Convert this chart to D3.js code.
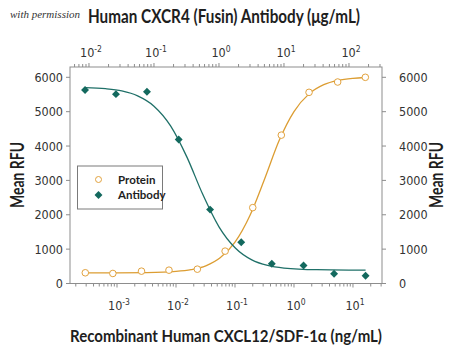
<!DOCTYPE html>
<html><head><meta charset="utf-8">
<script src="https://cdn.jsdelivr.net/npm/d3@7"></script>
<style>
html,body{margin:0;padding:0;background:#fff;}
svg{display:block;}
text{font-family:"DejaVu Sans Condensed","Liberation Sans Narrow",sans-serif;}
text.ttl{font-family:Lato,"DejaVu Sans Condensed",sans-serif;}
</style></head>
<body>
<script>
// ---- data ----
// Antibody (top axis, µg/mL)
const antibodyConc = [0.0087, 0.026, 0.078, 0.24, 0.73, 2.2, 6.5, 20, 59, 180];
const antibodyRFU  = [5630, 5510, 5580, 4190, 2150, 1200, 575, 525, 285, 225];
// Protein (bottom axis, ng/mL)
const proteinConc = [0.00029, 0.00085, 0.0026, 0.0076, 0.023, 0.068, 0.2, 0.61, 1.8, 5.5, 16.2];
const proteinRFU  = [312, 292, 359, 388, 417, 942, 2208, 4317, 5563, 5863, 6000];
// fitted curves
const antibodyFitConc = [0.0087, 0.018, 0.032, 0.056, 0.1, 0.18, 0.32, 0.56, 1, 1.8, 3.2, 5.6, 10, 32, 100, 180];
const antibodyFitRFU  = [5700, 5668, 5602, 5459, 5160, 4587, 3685, 2603, 1650, 1026, 687, 525, 450, 401, 392, 391];
const proteinFitConc = [0.00029, 0.001, 0.0032, 0.01, 0.018, 0.032, 0.056, 0.1, 0.18, 0.32, 0.56, 1, 1.8, 3.2, 5.6, 10, 16.2];
const proteinFitRFU  = [310, 311, 318, 352, 403, 514, 747, 1201, 1985, 3056, 4160, 5004, 5518, 5786, 5911, 5971, 5995];
const yTicks = [0, 1000, 2000, 3000, 4000, 5000, 6000];
const topTickExp = [-2, -1, 0, 1, 2];
const bottomTickExp = [-3, -2, -1, 0, 1];
const seriesNames = ["Protein", "Antibody"];

const W = 450, H = 350;
const L = 70, R = 382, T = 67, B = 283.5;
const teal = "#13695e", tealLine = "#1f7068", orange = "#e2a23e", orangeLine = "#dc9d32";
const axisCol = "#8d8d8d", textCol = "#1e1e1e";

const svg = d3.select("body").append("svg").attr("width", W).attr("height", H);

const xBottom = d3.scaleLog().domain([Math.pow(10, -3.797), Math.pow(10, 1.492)]).range([L, R]);
const xTop = d3.scaleLog().domain([Math.pow(10, -2.292), Math.pow(10, 2.508)]).range([L, R]);
const y = d3.scaleLinear().domain([0, 6300]).range([B, T]);

// watermark
svg.append("text").attr("x", 10).attr("y", 18)
  .style("font-family", "'Liberation Serif','DejaVu Serif',serif")
  .attr("font-style", "italic").attr("font-size", 11).attr("fill", "#333").text("with permission");

// frame
svg.append("rect").attr("x", L).attr("y", T).attr("width", R - L).attr("height", B - T)
  .attr("fill", "none").attr("stroke", axisCol).attr("stroke-width", 1);

function logTicks(scale) {
  const [a, b] = scale.domain();
  const out = [];
  for (let e = Math.floor(Math.log10(a)); e <= Math.ceil(Math.log10(b)); e++) {
    for (let m = 1; m <= 9; m++) {
      const v = m * Math.pow(10, e);
      if (v >= a && v <= b) out.push({v, major: m === 1});
    }
  }
  return out;
}
svg.append("g").selectAll("line").data(logTicks(xTop)).join("line")
  .attr("x1", d => xTop(d.v)).attr("x2", d => xTop(d.v))
  .attr("y1", T).attr("y2", d => T - (d.major ? 4 : 3))
  .attr("stroke", axisCol).attr("stroke-width", 1);
svg.append("g").selectAll("line").data(logTicks(xBottom)).join("line")
  .attr("x1", d => xBottom(d.v)).attr("x2", d => xBottom(d.v))
  .attr("y1", B).attr("y2", d => B + (d.major ? 4 : 3))
  .attr("stroke", axisCol).attr("stroke-width", 1);

function powLabel(g, x, yy, e) {
  const t = g.append("text").attr("x", x).attr("y", yy).attr("text-anchor", "middle")
    .attr("font-size", 12.5).attr("fill", "#333");
  t.append("tspan").text("10");
  t.append("tspan").attr("font-size", 8.5).attr("dy", -5).text(String(e));
}
const gTop = svg.append("g");
topTickExp.forEach(e => powLabel(gTop, xTop(Math.pow(10, e)) + 2, 57, e));
const gBot = svg.append("g");
bottomTickExp.forEach(e => powLabel(gBot, xBottom(Math.pow(10, e)) + 2, 310, e));

svg.append("g").selectAll("line").data(yTicks).join("line")
  .attr("x1", L - 4).attr("x2", L).attr("y1", d => y(d)).attr("y2", d => y(d)).attr("stroke", axisCol);
svg.append("g").selectAll("line").data(yTicks).join("line")
  .attr("x1", R).attr("x2", R + 4).attr("y1", d => y(d)).attr("y2", d => y(d)).attr("stroke", axisCol);
svg.append("g").selectAll("text").data(yTicks).join("text")
  .attr("x", 63).attr("y", d => y(d) + 4.5).attr("text-anchor", "end")
  .attr("font-size", 12.5).attr("fill", "#333").text(d => d);
svg.append("g").selectAll("text").data(yTicks).join("text")
  .attr("x", 399).attr("y", d => y(d) + 4.5).attr("text-anchor", "start")
  .attr("font-size", 12.5).attr("fill", "#333").text(d => d);

// titles
svg.append("text").attr("class", "ttl").attr("x", 224).attr("y", 23).attr("text-anchor", "middle")
  .attr("font-size", 18).attr("font-weight", 700)
  .attr("fill", textCol).attr("textLength", 272).attr("lengthAdjust", "spacingAndGlyphs")
  .text("Human CXCR4 (Fusin) Antibody (\u03bcg/mL)");
svg.append("text").attr("class", "ttl").attr("x", 226).attr("y", 342).attr("text-anchor", "middle")
  .attr("font-size", 17.5).attr("font-weight", 700)
  .attr("fill", textCol).attr("textLength", 312).attr("lengthAdjust", "spacingAndGlyphs")
  .text("Recombinant Human CXCL12/SDF-1\u03b1 (ng/mL)");
svg.append("text").attr("class", "ttl").attr("transform", "translate(24,175) rotate(-90)").attr("text-anchor", "middle")
  .attr("font-size", 18).attr("font-weight", 700).attr("fill", textCol)
  .attr("textLength", 66).attr("lengthAdjust", "spacingAndGlyphs").text("Mean RFU");
svg.append("text").attr("class", "ttl").attr("transform", "translate(443,175) rotate(-90)").attr("text-anchor", "middle")
  .attr("font-size", 18).attr("font-weight", 700).attr("fill", textCol)
  .attr("textLength", 66).attr("lengthAdjust", "spacingAndGlyphs").text("Mean RFU");

// curves
const abFit = antibodyFitConc.map((c, i) => [c, antibodyFitRFU[i]]);
const prFit = proteinFitConc.map((c, i) => [c, proteinFitRFU[i]]);
svg.append("path").datum(prFit).attr("fill", "none").attr("stroke", orangeLine).attr("stroke-width", 1.3)
  .attr("d", d3.line().x(d => xBottom(d[0])).y(d => y(d[1])).curve(d3.curveMonotoneX));
svg.append("path").datum(abFit).attr("fill", "none").attr("stroke", tealLine).attr("stroke-width", 1.3)
  .attr("d", d3.line().x(d => xTop(d[0])).y(d => y(d[1])).curve(d3.curveMonotoneX));

// points
const prPts = proteinConc.map((c, i) => [c, proteinRFU[i]]);
const abPts = antibodyConc.map((c, i) => [c, antibodyRFU[i]]);
svg.append("g").selectAll("circle").data(prPts).join("circle")
  .attr("cx", d => xBottom(d[0])).attr("cy", d => y(d[1])).attr("r", 3.3)
  .attr("fill", "#fff").attr("stroke", orange).attr("stroke-width", 1);
const diamond = d3.symbol().type(d3.symbolDiamond2).size(40);
svg.append("g").selectAll("path").data(abPts).join("path")
  .attr("transform", d => `translate(${xTop(d[0])},${y(d[1])})`)
  .attr("d", diamond).attr("fill", teal);

// legend
const lg = svg.append("g");
lg.append("rect").attr("x", 77.5).attr("y", 166).attr("width", 85).attr("height", 43)
  .attr("fill", "#fff").attr("stroke", "#7a7a7a").attr("stroke-width", 1);
lg.append("circle").attr("cx", 98.5).attr("cy", 179.5).attr("r", 3).attr("fill", "#fff").attr("stroke", orange);
lg.append("path").attr("transform", "translate(98.5,195)").attr("d", diamond).attr("fill", teal);
lg.append("text").attr("class", "ttl").attr("x", 118).attr("y", 183.5).attr("font-size", 11.5).attr("font-weight", 700)
  .attr("fill", textCol).text(seriesNames[0]);
lg.append("text").attr("class", "ttl").attr("x", 118).attr("y", 199).attr("font-size", 11.5).attr("font-weight", 700)
  .attr("fill", textCol).text(seriesNames[1]);
</script>
</body></html>
